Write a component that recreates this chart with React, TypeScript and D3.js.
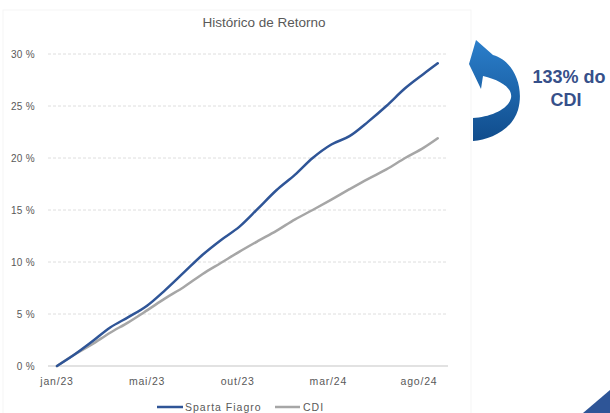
import React from "react";
import * as d3 from "d3";

const dates: string[] = [
  "2023-01-02", "2023-01-31", "2023-02-28", "2023-03-31", "2023-04-30", "2023-05-31",
  "2023-06-30", "2023-07-31", "2023-08-31", "2023-09-30", "2023-10-31", "2023-11-30",
  "2023-12-31", "2024-01-31", "2024-02-29", "2024-03-31", "2024-04-30", "2024-05-31",
  "2024-06-30", "2024-07-31", "2024-08-31", "2024-09-23",
];
const spartaFiagro: number[] = [
  0, 1.1, 2.3, 3.7, 4.7, 5.8, 7.3, 9.0, 10.7, 12.1, 13.4, 15.1,
  16.9, 18.4, 20.0, 21.3, 22.1, 23.5, 25.0, 26.7, 28.1, 29.1,
];
const cdi: number[] = [
  0, 1.1, 2.05, 3.2, 4.2, 5.35, 6.5, 7.6, 8.85, 9.9, 11.0, 12.0,
  13.0, 14.1, 15.0, 16.0, 17.0, 18.0, 18.9, 20.0, 21.0, 21.9,
];
const yTicks: number[] = [0, 5, 10, 15, 20, 25, 30];
const xTickDates: string[] = ["2023-01-02", "2023-05-31", "2023-10-28", "2024-03-26", "2024-08-23"];
const xTickLabels: string[] = ["jan/23", "mai/23", "out/23", "mar/24", "ago/24"];
const title = "Histórico de Retorno";
const seriesNames: string[] = ["Sparta Fiagro", "CDI"];
const annotationLines: string[] = ["133% do", "CDI"];

const parse = d3.timeParse("%Y-%m-%d");

export default function App() {
  const W = 610, H = 413;
  const x = d3.scaleTime()
    .domain([parse(xTickDates[0])!, parse(xTickDates[4])!])
    .range([57, 419]);
  const y = d3.scaleLinear().domain([0, 30]).range([366, 54]);
  const gridX0 = 48, gridX1 = 448;

  const pts = dates.map((d) => parse(d)!);
  const line = d3.line<number>()
    .x((_, i) => x(pts[i]))
    .y((v) => y(v))
    .curve(d3.curveMonotoneX);

  const labelColor = "#595959";
  const tickFont = "'Liberation Sans', Arial, sans-serif";

  return (
    <svg width={W} height={H} style={{ position: "absolute", left: 0, top: 0, background: "#fff" }}>
      <defs>
        <linearGradient id="arrowGrad" x1="0" y1="0" x2="0" y2="1">
          <stop offset="0%" stopColor="#2b7fcb" />
          <stop offset="100%" stopColor="#104c8c" />
        </linearGradient>
      </defs>
      <rect x={3} y={10} width={468} height={410} fill="none" stroke="#f5f5f5" />
      <text x={264} y={27} textAnchor="middle" fontFamily={tickFont} fontSize={13.5} fill={labelColor}>
        {title}
      </text>
      {yTicks.map((t) => (
        <g key={t}>
          {t !== 0 && (
            <line x1={gridX0} x2={gridX1} y1={y(t)} y2={y(t)} stroke="#dedede" strokeWidth={1} strokeDasharray="3,2" />
          )}
          <text x={35} y={y(t) + 3.5} textAnchor="end" fontFamily={tickFont} fontSize={10} letterSpacing={0.3} fill={labelColor}>
            {`${t} %`}
          </text>
        </g>
      ))}
      <line x1={gridX0} x2={gridX1} y1={y(0)} y2={y(0)} stroke="#d9d9d9" strokeWidth={1.5} />
      {xTickDates.map((d, i) => (
        <text key={d} x={x(parse(d)!)} y={385} textAnchor="middle" fontFamily={tickFont} fontSize={10.5} letterSpacing={0.8} fill={labelColor}>
          {xTickLabels[i]}
        </text>
      ))}
      <path d={line(cdi) || ""} fill="none" stroke="#a6a6a6" strokeWidth={2.5} strokeLinecap="round" />
      <path d={line(spartaFiagro) || ""} fill="none" stroke="#2f5597" strokeWidth={2.5} strokeLinecap="round" />

      <g>
        <line x1={157} x2={183} y1={407} y2={407} stroke="#2f5597" strokeWidth={2.5} />
        <text x={185} y={411} fontFamily={tickFont} fontSize={10.5} letterSpacing={1} fill={labelColor}>{seriesNames[0]}</text>
        <line x1={275} x2={300} y1={407} y2={407} stroke="#a6a6a6" strokeWidth={2.5} />
        <text x={303} y={411} fontFamily={tickFont} fontSize={10.5} letterSpacing={1} fill={labelColor}>{seriesNames[1]}</text>
      </g>

      <path
        d="M 476 40 L 469 64 L 481 89 L 483 76 C 500 80 513 88 511 98 C 508 110 490 117 473 118 L 473 141 C 490 140 512 130 518 110 C 525 85 512 60 493 55 Z"
        fill="url(#arrowGrad)"
      />
      <text x={569} y={83} textAnchor="middle" fontFamily={tickFont} fontWeight="bold" fontSize={18} fill="#36508a">
        {annotationLines[0]}
      </text>
      <text x={566} y={106} textAnchor="middle" fontFamily={tickFont} fontWeight="bold" fontSize={18} fill="#36508a">
        {annotationLines[1]}
      </text>
      <polygon points="583,413 610,390 610,413" fill="#2e5597" />
    </svg>
  );
}
